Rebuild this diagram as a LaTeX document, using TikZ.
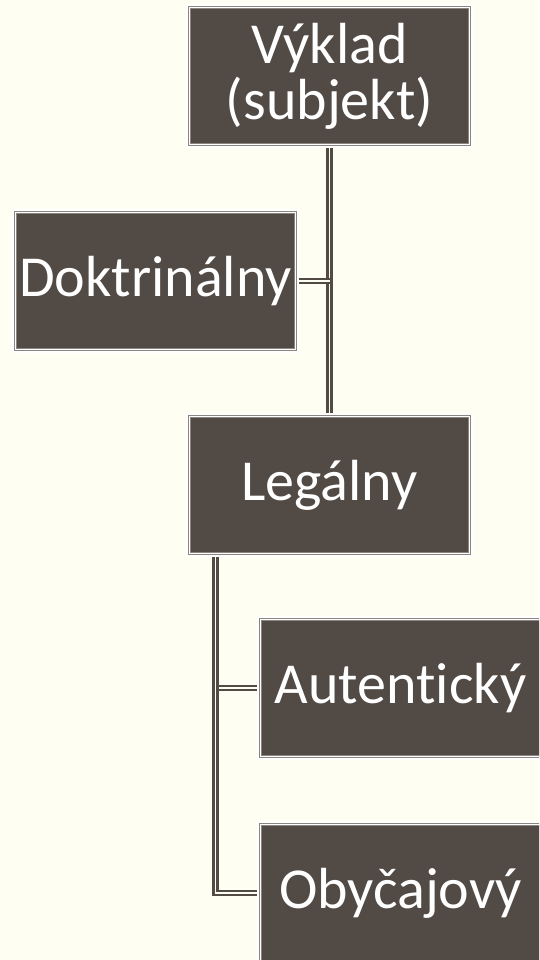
\documentclass[tikz,border=0pt]{standalone}
\usepackage{fontspec}
\setmainfont[Ligatures=NoCommon]{Carlito}
\usetikzlibrary{positioning,calc,backgrounds}
\definecolor{boxbrown}{RGB}{82,74,69}
\definecolor{boxedge}{RGB}{140,132,126}
\definecolor{paper}{RGB}{254,254,242}

\begin{document}
\begin{tikzpicture}[
    x=1pt,y=-1pt,
    box/.style={rectangle,fill=boxbrown,draw=boxedge,double=white,line width=0.7pt,double distance=1.6pt,
        preaction={draw=white,line width=7pt},minimum width=280pt,minimum height=137pt,
        text=white,align=center,font=\fontsize{58}{56}\selectfont,inner sep=0pt},
    link/.style={draw=boxbrown,double=paper,line width=2.8pt,double distance=1.2pt}
]
    % page
    \clip (0,0) rectangle (539,960);

    % Boxes
    \node[box] (vyklad) at (329.5,76) {Výklad\\(subjekt)};
    \node[box] (doktr) at (155.5,281) {Doktrinálny};
    \node[box] (legal) at (329.5,485) {Legálny};
    \node[box] (autent) at (400.5,688) {Autentický};
    \node[box] (obyc) at (400.5,893) {Obyčajový};

    % Background and connectors behind the boxes
    \begin{scope}[on background layer]
        \fill[paper] (0,0) rectangle (539,960);
        \draw[link] (vyklad.south) -- (legal.north);
        \draw[link] (doktr.east) -- (doktr.east -| vyklad.south);
        \draw[link] ([xshift=-114pt]legal.south) |- (autent.west);
        \draw[link] ([xshift=-114pt]legal.south) |- (obyc.west);
    \end{scope}
\end{tikzpicture}
\end{document}
